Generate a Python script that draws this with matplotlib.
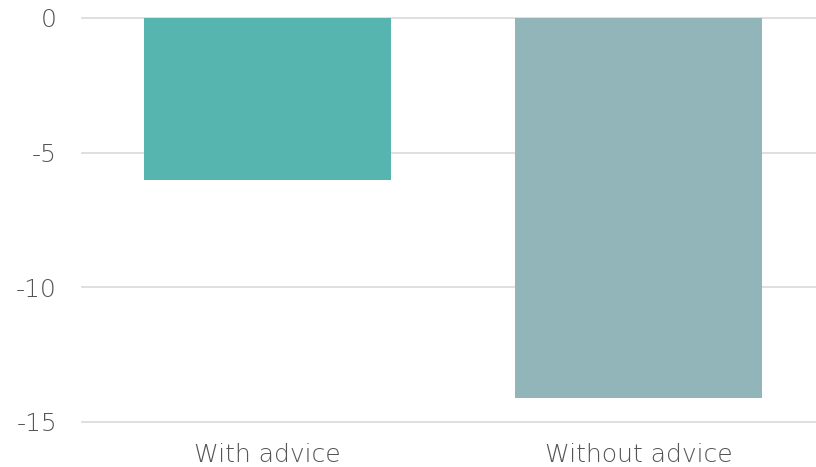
import matplotlib
matplotlib.use('Agg')
import matplotlib.pyplot as plt

# data
categories = ['With advice', 'Without advice']
values = [-6.0, -14.1]
bar_colors = ['#57b5b0', '#92b5ba']
yticks = [0, -5, -10, -15]

plt.rcParams['font.family'] = ['DejaVu Sans']

fig = plt.figure(figsize=(8.16, 4.67), dpi=100)
ax = fig.add_axes([0.1005, 0.0964, 0.9093, 0.8651])

x = list(range(len(categories)))
ax.bar(x, values, width=0.668, color=bar_colors, zorder=2)

for t in yticks:
    ax.axhline(t, color='#d9d9d9', linewidth=1.2, zorder=1, clip_on=False)

ax.set_xlim(-0.5, 1.5)
ax.set_ylim(-15, 0)
ax.set_yticks(yticks)
ax.set_yticklabels([str(t) for t in yticks])
ax.set_xticks(x)
ax.set_xticklabels(categories)
ax.tick_params(axis='both', length=0, labelsize=18, colors='#555555')
ax.tick_params(axis='y', pad=18)
ax.tick_params(axis='x', pad=15)
for lab in ax.get_xticklabels() + ax.get_yticklabels():
    lab.set_fontweight('light')
for s in ax.spines.values():
    s.set_visible(False)

fig.savefig('out.png', dpi=100)
